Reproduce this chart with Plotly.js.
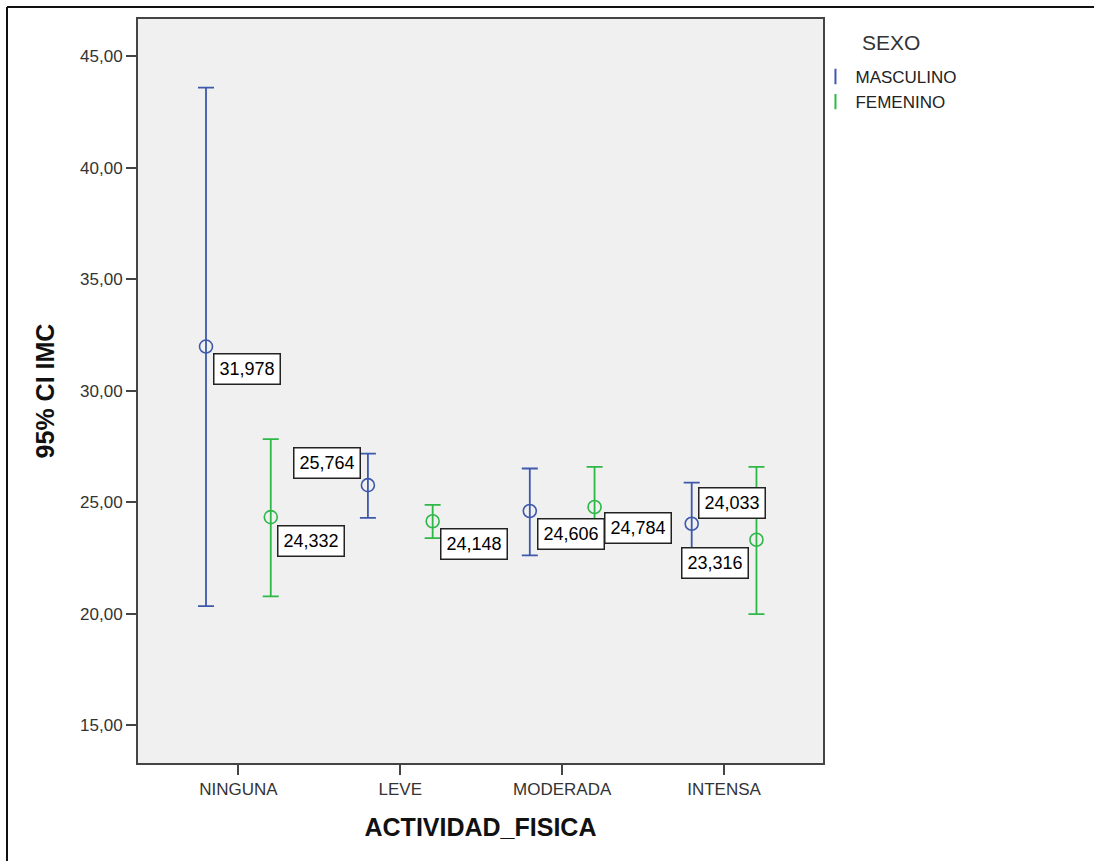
<!DOCTYPE html>
<html>
<head>
<meta charset="utf-8">
<script src="https://cdn.plot.ly/plotly-3.0.1.min.js"></script>
<style>
  html, body { margin: 0; padding: 0; background: #ffffff; }
  #chart { width: 1094px; height: 861px; }
</style>
</head>
<body>
<div id="chart"></div>
<script>
// ---- data ----
const categories = ["NINGUNA", "LEVE", "MODERADA", "INTENSA"];
const seriesNames = ["MASCULINO", "FEMENINO"];
const legendTitle = "SEXO";

const mascMean  = [31.978, 25.764, 24.606, 24.033];
const mascUpper = [43.58, 27.18, 26.51, 25.88];
const mascLower = [20.34, 24.30, 22.62, 22.14];

const femMean  = [24.332, 24.148, 24.784, 23.316];
const femUpper = [27.83, 24.88, 26.58, 26.58];
const femLower = [20.78, 23.39, 22.99, 19.98];

const yTickVals = [15, 20, 25, 30, 35, 40, 45];

// ---- styling ----
const FONT = 'Arial, "Liberation Sans", sans-serif';
const colors = ["#3E58AC", "#2EB848"];
const dodge = [-0.2, 0.2];

// label placement per series per category (style only)
const labelPlace = [
  [ {xa:"left", ya:"top", dx:7, dy:-6},
    {xa:"right", ya:"bottom", dx:-7, dy:6},
    {xa:"left", ya:"top", dx:7, dy:-7},
    {xa:"left", ya:"bottom", dx:6, dy:5} ],
  [ {xa:"left", ya:"top", dx:6, dy:-8},
    {xa:"left", ya:"top", dx:7, dy:-7},
    {xa:"left", ya:"top", dx:9, dy:-5},
    {xa:"right", ya:"top", dx:-7, dy:-7} ]
];

const series = [
  {mean: mascMean, up: mascUpper, lo: mascLower},
  {mean: femMean, up: femUpper, lo: femLower}
];

const traces = [];
const annotations = [];
series.forEach((s, k) => {
  const xs = categories.map((c, i) => i + dodge[k]);
  traces.push({
    type: "scatter",
    mode: "markers",
    x: xs,
    y: s.mean,
    showlegend: false,
    hoverinfo: "skip",
    marker: { symbol: "circle-open", size: 13, color: colors[k], line: { width: 1.6, color: colors[k] } },
    error_y: {
      type: "data",
      symmetric: false,
      array: s.mean.map((m, i) => s.up[i] - m),
      arrayminus: s.mean.map((m, i) => m - s.lo[i]),
      color: colors[k],
      thickness: 1.8,
      width: 8
    }
  });
  s.mean.forEach((m, i) => {
    const p = labelPlace[k][i];
    annotations.push({
      x: xs[i], y: m, xref: "x", yref: "y",
      text: m.toFixed(3).replace(".", ","),
      showarrow: false,
      xanchor: p.xa, yanchor: p.ya,
      xshift: p.dx, yshift: p.dy,
      font: { family: FONT, size: 18, color: "#000000" },
      bgcolor: "#ffffff",
      bordercolor: "#222222",
      borderwidth: 1.5,
      borderpad: 5,
      height: 19
    });
  });
});

// legend-only entries
seriesNames.forEach((n, k) => {
  traces.push({
    type: "scatter", mode: "markers", x: [null], y: [null], name: n,
    marker: { symbol: "line-ns-open", size: 11, color: colors[k], line: { width: 2, color: colors[k] } },
    hoverinfo: "skip"
  });
});

const L = 138, T = 19, W = 685, H = 743.7;
annotations.push({
  xref: "paper", yref: "paper",
  x: (891 - L) / W, y: 1 - (42 - T) / H,
  xanchor: "center", yanchor: "middle",
  text: legendTitle, showarrow: false,
  font: { family: FONT, size: 21, color: "#333333" }
});

const layout = {
  width: 1094, height: 861,
  margin: { l: L, r: 1094 - L - W, t: T, b: 861 - T - H, pad: 0 },
  paper_bgcolor: "#ffffff",
  plot_bgcolor: "#f0f0f0",
  separators: ",.",
  font: { family: FONT, color: "#333333" },
  showlegend: true,
  legend: {
    x: 0.989, xanchor: "left", y: 1 - (59 - T) / H, yanchor: "top",
    bgcolor: "rgba(0,0,0,0)",
    font: { family: FONT, size: 17, color: "#222222" },
    itemwidth: 30,
    tracegroupgap: 0
  },
  xaxis: {
    range: [-0.62, 3.611],
    tickmode: "array",
    tickvals: categories.map((c, i) => i),
    ticktext: categories,
    ticks: "outside", ticklen: 10, tickwidth: 2, tickcolor: "#444444",
    showline: true, mirror: true, linecolor: "#444444", linewidth: 2,
    showgrid: false, zeroline: false,
    tickfont: { family: FONT, size: 17, color: "#333333" },
    title: { text: "<b>ACTIVIDAD_FISICA</b>", font: { family: FONT, size: 25, color: "#111111" }, standoff: 20 },
    fixedrange: true
  },
  yaxis: {
    range: [13.31, 46.66],
    tickmode: "array",
    tickvals: yTickVals,
    tickformat: ".2f",
    ticks: "outside", ticklen: 10, tickwidth: 2, tickcolor: "#444444",
    showline: true, mirror: true, linecolor: "#444444", linewidth: 2,
    showgrid: false, zeroline: false,
    tickfont: { family: FONT, size: 17, color: "#333333" },
    title: { text: "<b>95% CI IMC</b>", font: { family: FONT, size: 25, color: "#111111" }, standoff: 18 },
    fixedrange: true
  },
  annotations: annotations,
  shapes: [
    { type: "line", xref: "paper", yref: "paper", x0: (7 - L) / W, x1: (1094 - L) / W, y0: 1 + (T - 7) / H, y1: 1 + (T - 7) / H, line: { color: "#111111", width: 2 } },
    { type: "line", xref: "paper", yref: "paper", x0: (7 - L) / W, x1: (7 - L) / W, y0: 1 + (T - 7) / H, y1: -(861 - T - H) / H - 0.01, line: { color: "#111111", width: 2 } }
  ]
};

Plotly.newPlot("chart", traces, layout, { displayModeBar: false, staticPlot: true });
</script>
</body>
</html>
